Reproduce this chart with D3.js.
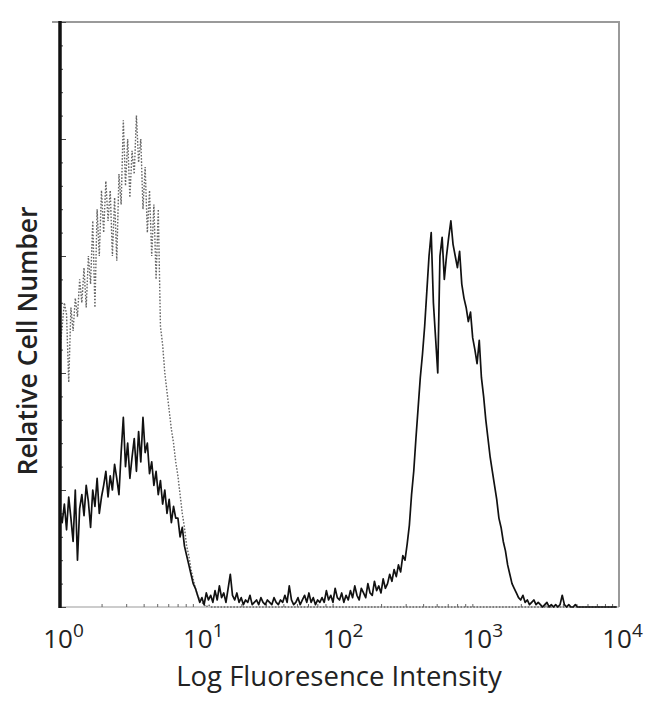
<!DOCTYPE html>
<html>
<head>
<meta charset="utf-8">
<title>Relative Cell Number</title>
<script src="https://d3js.org/d3.v7.min.js"></script>
<style>
  body { margin: 0; background: #fff; }
  text { font-family: "Open Sans", "DejaVu Sans", sans-serif; fill: #222; }
</style>
</head>
<body>
<script type="text/javascript">

// histogram channels, 64 per decade, 4 decades (10^0 .. 10^4)
var channelsPerDecade = 64;

// stained sample (solid line), counts per channel
var stained = [
  40, 36, 44, 33, 47, 38, 28, 50, 20, 42,
  48, 39, 52, 45, 34, 50, 43, 55, 40, 47,
  52, 58, 47, 56, 50, 61, 55, 48, 66, 81,
  60, 70, 55, 64, 72, 58, 75, 62, 81, 66,
  70, 57, 62, 52, 58, 48, 54, 44, 50, 40,
  46, 36, 43, 38, 38, 30, 34, 26, 22, 18,
  14, 10, 8, 5, 2, 4, 1, 6, 3, 5,
  2, 7, 3, 9, 4, 6, 2, 8, 14, 5,
  3, 6, 2, 4, 1, 3, 2, 5, 1, 2,
  3, 1, 4, 2, 1, 3, 2, 1, 4, 2,
  1, 3, 2, 5, 2, 9, 3, 1, 2, 4,
  1, 3, 5, 2, 6, 2, 4, 1, 3, 2,
  4, 2, 7, 3, 5, 2, 8, 4, 3, 6,
  2, 5, 3, 7, 4, 9, 5, 3, 8, 6,
  4, 10, 6, 5, 11, 7, 9, 6, 12, 8,
  10, 14, 11, 16, 13, 18, 15, 22, 20, 27,
  35, 48, 58, 72, 85, 98, 108, 120, 135, 150,
  160, 130, 115, 100, 150, 158, 140, 150, 158, 165,
  155, 150, 145, 152, 138, 132, 128, 122, 126, 115,
  110, 104, 114, 98, 90, 80, 72, 64, 58, 52,
  46, 38, 34, 28, 24, 18, 14, 10, 8, 6,
  4, 3, 5, 2, 3, 1, 2, 3, 1, 2,
  1, 0, 1, 2, 0, 1, 0, 1, 0, 1,
  5, 1, 0, 1, 0, 0, 1, 0, 0, 0,
  0, 0, 0, 0, 0, 0, 0, 0, 0, 0,
  0, 0, 0, 0, 0, 0
];

// isotype control (dotted line), counts per channel
var isotype = [
  110, 120, 130, 125, 96, 128, 118, 132, 124, 140,
  130, 145, 128, 150, 138, 165, 128, 170, 150, 178,
  160, 182, 165, 178, 150, 175, 148, 185, 172, 208,
  180, 200, 175, 195, 185, 210, 190, 200, 170, 188,
  160, 178, 150, 172, 140, 170, 120, 112, 100, 92,
  84, 76, 70, 62, 56, 48, 40, 34, 26, 22,
  16, 12, 8, 5, 3, 2, 1, 0, 1, 0,
  0, 0, 0, 0, 0, 0, 0, 0, 0, 0,
  0, 0, 0, 0, 0, 0, 0, 0, 0, 0,
  0, 0, 0, 0, 0, 0, 0, 0, 0, 0,
  0, 0, 0, 0, 0, 0, 0, 0, 0, 0,
  0, 0, 0, 0, 0, 0, 0, 0, 0, 0,
  0, 0, 0, 0, 0, 0, 0, 0, 0, 0,
  0, 0, 0, 0, 0, 0, 0, 0, 0, 0,
  0, 0, 0, 0, 0, 0, 0, 0, 0, 0,
  0, 0, 0, 0, 0, 0, 0, 0, 0, 0,
  0, 0, 0, 0, 0, 0, 0, 0, 0, 0,
  0, 0, 0, 0, 0, 0, 0, 0, 0, 0,
  0, 0, 0, 0, 0, 0, 0, 0, 0, 0,
  0, 0, 0, 0, 0, 0, 0, 0, 0, 0,
  0, 0, 0, 0, 0, 0, 0, 0, 0, 0,
  0, 0, 0, 0, 0, 0, 0, 0, 0, 0,
  0, 0, 0, 0, 0, 0, 0, 0, 0, 0,
  0, 0, 0, 0, 0, 0, 0, 0, 0, 0,
  0, 0, 0, 0, 0, 0, 0, 0, 0, 0,
  0, 0, 0, 0, 0, 0
];

var xTicks = [1, 10, 100, 1000, 10000];
var xTickExponents = ["0", "1", "2", "3", "4"];
var yMax = 250;

var width = 650;
var height = 704;
// NB: "top" is a read-only window global, so use plot* names
var plotLeft = 60, plotRight = 619, plotTop = 22, plotBottom = 607;

var svg = d3.select("body")
      .append("svg")
      .attr("width", width)
      .attr("height", height);

svg.append("rect").attr("width", width).attr("height", height).attr("fill", "#fff");

var x = d3.scaleLog().domain([1, 10000]).range([plotLeft, plotRight]);
var y = d3.scaleLinear().domain([0, yMax]).range([plotBottom, plotTop]);

// channel index -> fluorescence value
function chanValue(i) { return Math.pow(10, i / channelsPerDecade); }

var line = d3.line()
      .x(function(d, i) { return x(chanValue(i)); })
      .y(function(d) { return y(d); });

// frame (top + right in gray)
svg.append("path")
   .attr("d", "M" + (plotLeft - 8) + "," + plotTop + "H" + plotRight + "V" + plotBottom)
   .attr("fill", "none")
   .attr("stroke", "#9a9a9a")
   .attr("stroke-width", 2);

// bottom axis line
svg.append("line")
   .attr("x1", plotLeft).attr("x2", plotRight)
   .attr("y1", plotBottom).attr("y2", plotBottom)
   .attr("stroke", "#999")
   .attr("stroke-width", 1);

// minor log ticks on bottom axis
var minorX = [];
for (var dec = 1; dec < 10000; dec *= 10) {
  for (var k = 2; k < 10; k++) minorX.push(dec * k);
}
svg.append("g").selectAll("line")
   .data(minorX)
   .enter().append("line")
   .attr("x1", function(d) { return x(d); })
   .attr("x2", function(d) { return x(d); })
   .attr("y1", plotBottom).attr("y2", plotBottom - 3)
   .attr("stroke", "#666");

// x axis labels 10^n
var xAxis = d3.axisBottom(x).tickValues(xTicks).tickSize(0).tickFormat("");
var gx = svg.append("g").attr("transform", "translate(0," + plotBottom + ")").call(xAxis);
gx.select(".domain").remove();
gx.selectAll(".tick").each(function(d, i) {
  var t = d3.select(this).append("text")
        .attr("x", 3)
        .attr("y", 41)
        .attr("text-anchor", "middle")
        .style("font-size", "26px")
        .style("fill", "#222");
  t.append("tspan").text("10");
  t.append("tspan").text(xTickExponents[i]).attr("dy", -11).style("font-size", "19px");
});

// y axis: inside ticks, major every 50, minor every 10
var yAxisMajor = d3.axisRight(y).tickValues(d3.range(0, yMax + 1, 50)).tickSize(6).tickFormat("");
var yAxisMinor = d3.axisRight(y).tickValues(d3.range(0, yMax + 1, 10)).tickSize(3).tickFormat("");
var gyMinor = svg.append("g").attr("transform", "translate(" + plotLeft + ",0)").call(yAxisMinor);
var gyMajor = svg.append("g").attr("transform", "translate(" + plotLeft + ",0)").call(yAxisMajor);
gyMinor.select(".domain").remove();
gyMajor.select(".domain").remove();
svg.selectAll(".tick line").attr("stroke", "#444");

// isotype control, dotted
svg.append("path")
   .datum(isotype)
   .attr("d", line)
   .attr("fill", "none")
   .attr("stroke", "#666")
   .attr("stroke-width", 1.4)
   .attr("stroke-dasharray", "1.6,1.6");

// stained sample, solid
svg.append("path")
   .datum(stained)
   .attr("d", line)
   .attr("fill", "none")
   .attr("stroke", "#111")
   .attr("stroke-width", 1.7)
   .attr("stroke-linejoin", "round");

// thick left axis
svg.append("line")
   .attr("x1", plotLeft).attr("x2", plotLeft)
   .attr("y1", plotTop - 1).attr("y2", plotBottom + 1)
   .attr("stroke", "#111")
   .attr("stroke-width", 3.5);

// axis titles
svg.append("text")
   .attr("x", 339)
   .attr("y", 686)
   .attr("text-anchor", "middle")
   .style("font-size", "27.5px")
   .text("Log Fluoresence Intensity");

svg.append("text")
   .attr("transform", "translate(37,341) rotate(-90)")
   .attr("text-anchor", "middle")
   .style("font-size", "26.5px")
   .style("font-weight", "600")
   .text("Relative Cell Number");

</script>
</body>
</html>
